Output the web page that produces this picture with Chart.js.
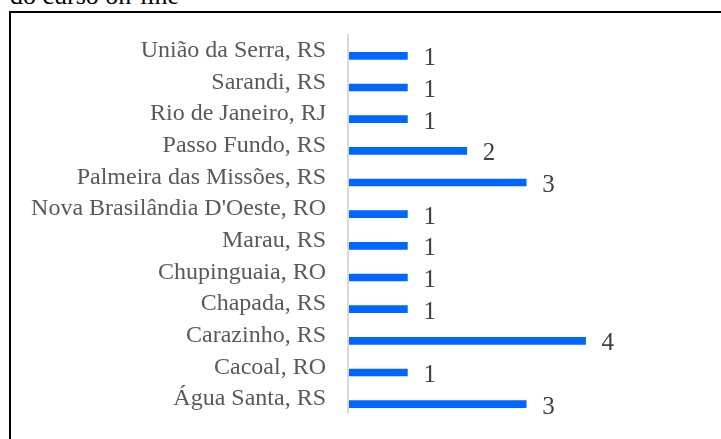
<!DOCTYPE html>
<html>
<head>
<meta charset="utf-8">
<script src="https://cdn.jsdelivr.net/npm/chart.js@4.4.1/dist/chart.umd.min.js"></script>
<style>
  body { margin: 0; background: #fff; overflow: hidden; }
  #wrap { position: relative; width: 721px; height: 439px; }
  #topText {
    position: absolute; left: 10px; top: -19px;
    font-family: 'Liberation Serif', serif; font-size: 26px; color: #000;
    white-space: nowrap;
  }
  #frame {
    position: absolute; left: 9px; top: 11px; width: 720px; height: 440px;
    border-top: 2px solid #000; border-left: 2px solid #000;
  }
  canvas { position: absolute; left: 0; top: 0; }
</style>
</head>
<body>
<div id="wrap">
  <div id="topText">do curso on-line</div>
  <div id="frame"></div>
  <canvas id="chart" width="721" height="439"></canvas>
</div>
<script>
// cidades (de cima para baixo)
const cidades = [
  'União da Serra, RS',
  'Sarandi, RS',
  'Rio de Janeiro, RJ',
  'Passo Fundo, RS',
  'Palmeira das Missões, RS',
  "Nova Brasilândia D'Oeste, RO",
  'Marau, RS',
  'Chupinguaia, RO',
  'Chapada, RS',
  'Carazinho, RS',
  'Cacoal, RO',
  'Água Santa, RS'
]
// quantidade de alunos
const quantidade = [1, 1, 1, 2, 3, 1, 1, 1, 1, 4, 1, 3]

// rótulos de valor à direita das barras + linha do eixo
const valueLabels = {
  id: 'valueLabels',
  afterDatasetsDraw(chart) {
    const ctx = chart.ctx
    const area = chart.chartArea
    ctx.save()
    // linha do eixo vertical (um pouco deslocada para cima, como no Excel)
    ctx.strokeStyle = '#d9d9d9'
    ctx.lineWidth = 2
    ctx.beginPath()
    ctx.moveTo(area.left, area.top - 6)
    ctx.lineTo(area.left, area.bottom - 7)
    ctx.stroke()

    ctx.font = '25px "Liberation Serif"'
    ctx.fillStyle = '#404040'
    ctx.textAlign = 'left'
    ctx.textBaseline = 'alphabetic'
    chart.getDatasetMeta(0).data.forEach((bar, i) => {
      ctx.fillText(String(quantidade[i]), bar.x + 16, bar.y + 9.5)
    })
    ctx.restore()
  }
}

const ctx = document.getElementById('chart').getContext('2d')
new Chart(ctx, {
  type: 'bar',
  data: {
    labels: cidades,
    datasets: [{
      data: quantidade,
      backgroundColor: '#0066ff',
      borderWidth: 0,
      barThickness: 7
    }]
  },
  options: {
    indexAxis: 'y',
    responsive: false,
    animation: false,
    layout: { padding: { top: 40, bottom: 19, right: 76, left: 0 } },
    plugins: {
      legend: { display: false },
      tooltip: { enabled: false }
    },
    scales: {
      x: {
        display: false,
        min: 0,
        max: 5
      },
      y: {
        afterFit: scale => {
          scale.width = 348
          scale.paddingTop = 0
          scale.paddingBottom = 0
        },
        grid: { display: false, drawTicks: false },
        border: { display: false },
        ticks: {
          autoSkip: false,
          padding: 22,
          labelOffset: -5,
          color: '#595959',
          font: { family: 'Liberation Serif', size: 24 }
        }
      }
    }
  },
  plugins: [valueLabels]
})
</script>
</body>
</html>
